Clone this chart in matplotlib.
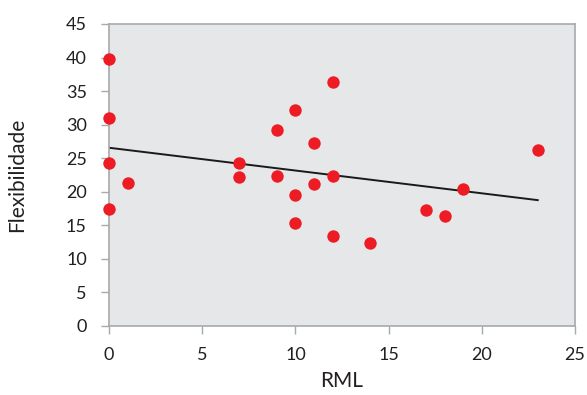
import numpy as np
import matplotlib
matplotlib.use('Agg')
import matplotlib.pyplot as plt

# Data
rml = [0, 0, 0, 0, 1, 7, 7, 9, 9, 10, 10, 10, 11, 11, 12, 12, 12, 14, 17, 18, 19, 23]
flex = [39.8, 31.0, 24.3, 17.4, 21.3, 24.3, 22.2, 29.2, 22.4, 32.2, 19.5, 15.4,
        27.3, 21.2, 36.4, 22.4, 13.4, 12.4, 17.3, 16.4, 20.4, 26.2]
x_ticks = [0, 5, 10, 15, 20, 25]
y_ticks = [0, 5, 10, 15, 20, 25, 30, 35, 40, 45]

plt.rcParams['font.family'] = ['Lato', 'DejaVu Sans']

fig = plt.figure(figsize=(5.87, 3.95), dpi=100)
ax = fig.add_axes([109/587, 1 - 326/395, (575 - 109)/587, (326 - 24)/395])
ax.set_facecolor('#e6e7e8')

ax.scatter(rml, flex, s=80, color='#ed1c24', zorder=3, linewidths=0, clip_on=False)

# linear trend line
m, b = np.polyfit(rml, flex, 1)
xs = np.array([min(rml), max(rml)])
ax.plot(xs, m*xs + b, color='#1a1a1a', lw=1.4, zorder=2)

ax.set_xlim(0, 25)
ax.set_ylim(0, 45)
ax.set_xticks(x_ticks)
ax.set_yticks(y_ticks)
for s in ax.spines.values():
    s.set_color('#a7a9ac')
    s.set_linewidth(1.2)
ax.tick_params(colors='#a7a9ac', labelcolor='#231f20', labelsize=13, length=6, width=1)
ax.tick_params(axis='x', pad=9)
ax.tick_params(axis='y', pad=10)
ax.set_xlabel('RML', fontsize=15, color='#231f20', labelpad=6)
ax.set_ylabel('Flexibilidade', fontsize=15, color='#231f20', labelpad=28)

fig.savefig('out.png', dpi=100)
